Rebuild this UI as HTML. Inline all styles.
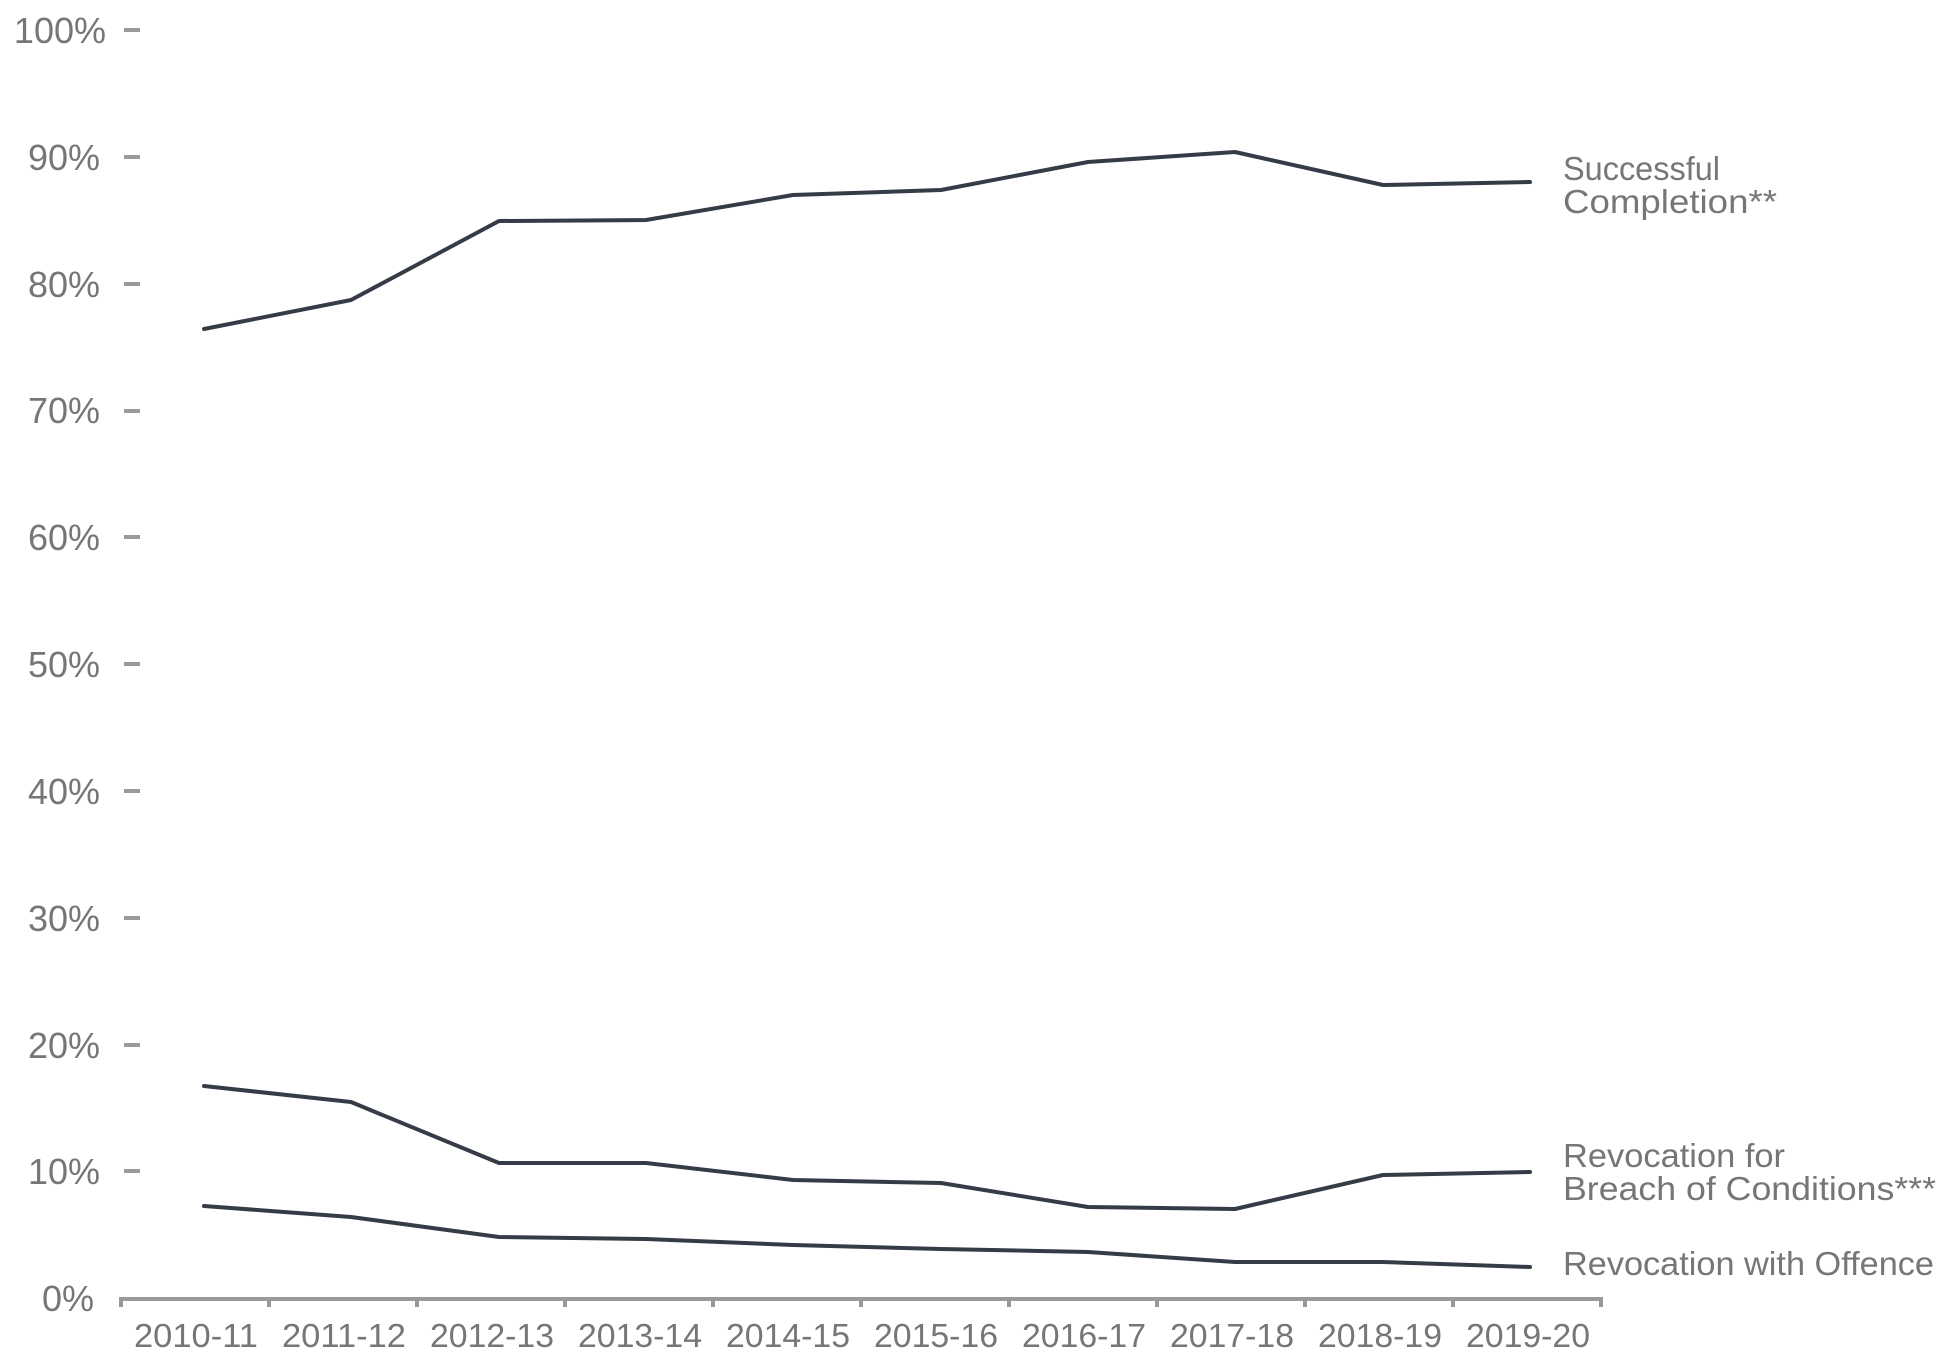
<!DOCTYPE html>
<html><head><meta charset="utf-8"><style>html,body{margin:0;padding:0;background:#fff}svg{display:block}</style></head>
<body>
<svg width="1951" height="1369" viewBox="0 0 1951 1369" xmlns="http://www.w3.org/2000/svg" font-family="'Liberation Sans', sans-serif" fill="#767676">
<g font-size="36" text-anchor="end">
<text x="106" y="43">100%</text>
<text x="100" y="170">90%</text>
<text x="100" y="297">80%</text>
<text x="100" y="423">70%</text>
<text x="100" y="550">60%</text>
<text x="100" y="677">50%</text>
<text x="100" y="804">40%</text>
<text x="100" y="931">30%</text>
<text x="100" y="1058">20%</text>
<text x="100" y="1184">10%</text>
<text x="94" y="1311">0%</text>
</g>
<g stroke="#9a9a9a" stroke-width="4">
<line x1="124" y1="30" x2="140" y2="30"/><line x1="124" y1="157" x2="140" y2="157"/><line x1="124" y1="284" x2="140" y2="284"/><line x1="124" y1="411" x2="140" y2="411"/><line x1="124" y1="537" x2="140" y2="537"/><line x1="124" y1="664" x2="140" y2="664"/><line x1="124" y1="791" x2="140" y2="791"/><line x1="124" y1="918" x2="140" y2="918"/><line x1="124" y1="1045" x2="140" y2="1045"/><line x1="124" y1="1171" x2="140" y2="1171"/>
<line x1="120" y1="1299" x2="1602" y2="1299"/>
<path d="M121 1297v10M269 1297v10M417 1297v10M565 1297v10M713 1297v10M861 1297v10M1009 1297v10M1157 1297v10M1305 1297v10M1453 1297v10M1601 1297v10"/>
</g>
<g font-size="33" text-anchor="middle">
<text x="196" y="1347" textLength="124" lengthAdjust="spacingAndGlyphs">2010-11</text><text x="344" y="1347" textLength="124" lengthAdjust="spacingAndGlyphs">2011-12</text><text x="492" y="1347" textLength="124" lengthAdjust="spacingAndGlyphs">2012-13</text><text x="640" y="1347" textLength="124" lengthAdjust="spacingAndGlyphs">2013-14</text><text x="788" y="1347" textLength="124" lengthAdjust="spacingAndGlyphs">2014-15</text><text x="936" y="1347" textLength="124" lengthAdjust="spacingAndGlyphs">2015-16</text><text x="1084" y="1347" textLength="124" lengthAdjust="spacingAndGlyphs">2016-17</text><text x="1232" y="1347" textLength="124" lengthAdjust="spacingAndGlyphs">2017-18</text><text x="1380" y="1347" textLength="124" lengthAdjust="spacingAndGlyphs">2018-19</text><text x="1528" y="1347" textLength="124" lengthAdjust="spacingAndGlyphs">2019-20</text>
</g>
<g fill="none" stroke="#353c47" stroke-width="4" stroke-linejoin="round" stroke-linecap="round">
<polyline points="204,329 351,300 499,221 646,220 793,195 941,190 1088,162 1235,152 1383,185 1530,182"/>
<polyline points="204,1086 351,1102 499,1163 646,1163 793,1180 941,1183 1088,1207 1235,1209 1383,1175 1530,1172"/>
<polyline points="204,1206 351,1217 499,1237 646,1239 793,1245 941,1249 1088,1252 1235,1262 1383,1262 1530,1267"/>
</g>
<g font-size="33">
<text x="1563" y="180" textLength="157" lengthAdjust="spacingAndGlyphs">Successful</text>
<text x="1563" y="213" textLength="214" lengthAdjust="spacingAndGlyphs">Completion**</text>
<text x="1563" y="1167" textLength="222" lengthAdjust="spacingAndGlyphs">Revocation for</text>
<text x="1563" y="1200" textLength="373" lengthAdjust="spacingAndGlyphs">Breach of Conditions***</text>
<text x="1563" y="1275" textLength="371" lengthAdjust="spacingAndGlyphs">Revocation with Offence</text>
</g>
</svg>
</body></html>
